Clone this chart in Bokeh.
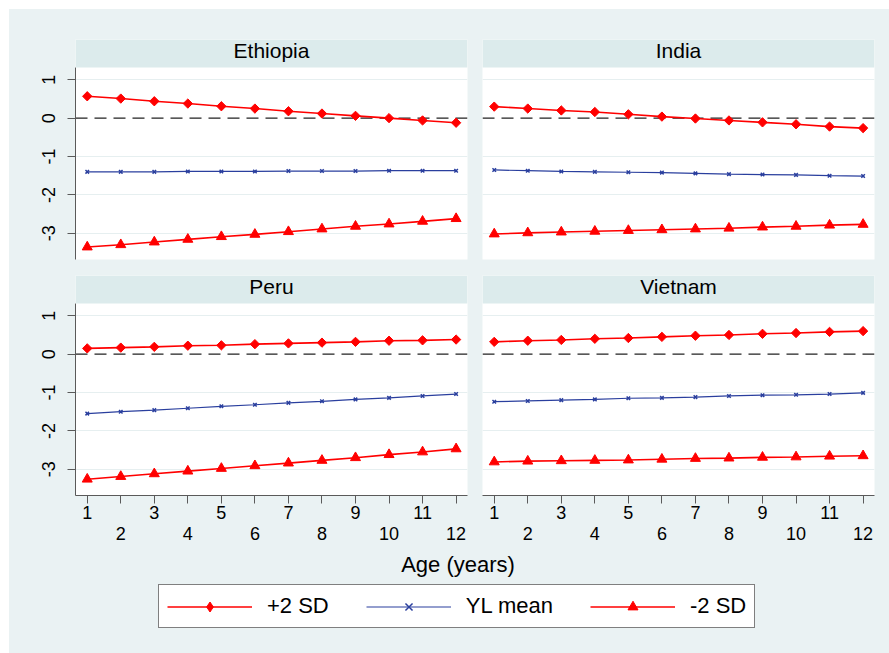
import math
from bokeh.plotting import figure
from bokeh.models import (Range1d, FixedTicker, LinearAxis, Span, BoxAnnotation,
                          Label, Legend, LegendItem, Grid)
from bokeh.layouts import column, row
from bokeh.embed import file_html
from bokeh.resources import INLINE

# ---------------- data ----------------
AGES = [1, 2, 3, 4, 5, 6, 7, 8, 9, 10, 11, 12]
COUNTRIES = ["Ethiopia", "India", "Peru", "Vietnam"]

PLUS2_ETHIOPIA = [0.57, 0.51, 0.44, 0.38, 0.31, 0.25, 0.18, 0.12, 0.06, 0.00, -0.06, -0.12]
MEAN_ETHIOPIA = [-1.40, -1.40, -1.40, -1.39, -1.39, -1.39, -1.38, -1.38, -1.38, -1.37, -1.37, -1.37]
MINUS2_ETHIOPIA = [-3.36, -3.30, -3.23, -3.16, -3.09, -3.03, -2.96, -2.89, -2.82, -2.76, -2.69, -2.62]

PLUS2_INDIA = [0.30, 0.25, 0.20, 0.16, 0.10, 0.04, -0.01, -0.06, -0.11, -0.16, -0.22, -0.26]
MEAN_INDIA = [-1.35, -1.37, -1.39, -1.40, -1.41, -1.42, -1.44, -1.46, -1.47, -1.48, -1.50, -1.51]
MINUS2_INDIA = [-3.02, -2.99, -2.97, -2.95, -2.93, -2.91, -2.89, -2.87, -2.84, -2.82, -2.79, -2.77]

PLUS2_PERU = [0.15, 0.17, 0.19, 0.22, 0.23, 0.26, 0.28, 0.30, 0.32, 0.35, 0.36, 0.38]
MEAN_PERU = [-1.55, -1.50, -1.46, -1.41, -1.36, -1.32, -1.27, -1.23, -1.18, -1.14, -1.09, -1.04]
MINUS2_PERU = [-3.26, -3.19, -3.12, -3.05, -2.98, -2.91, -2.84, -2.77, -2.70, -2.62, -2.55, -2.47]

PLUS2_VIETNAM = [0.32, 0.35, 0.37, 0.40, 0.42, 0.45, 0.48, 0.50, 0.53, 0.55, 0.58, 0.60]
MEAN_VIETNAM = [-1.24, -1.22, -1.20, -1.18, -1.15, -1.14, -1.12, -1.09, -1.07, -1.06, -1.04, -1.01]
MINUS2_VIETNAM = [-2.81, -2.79, -2.78, -2.77, -2.76, -2.74, -2.72, -2.71, -2.69, -2.68, -2.66, -2.65]

PLUS2 = {"Ethiopia": PLUS2_ETHIOPIA, "India": PLUS2_INDIA, "Peru": PLUS2_PERU, "Vietnam": PLUS2_VIETNAM}
MEAN = {"Ethiopia": MEAN_ETHIOPIA, "India": MEAN_INDIA, "Peru": MEAN_PERU, "Vietnam": MEAN_VIETNAM}
MINUS2 = {"Ethiopia": MINUS2_ETHIOPIA, "India": MINUS2_INDIA, "Peru": MINUS2_PERU, "Vietnam": MINUS2_VIETNAM}

Y_TICKS = [-3, -2, -1, 0, 1]
X_TICKS = AGES
SERIES_LABELS = ["+2 SD", "YL mean", "-2 SD"]
X_TITLE = "Age (years)"

# ---------------- style ----------------
BG = "#EAF2F3"
STRIP = "#DCEBEC"
GRID = "#E6EFF0"
RED = "#FF0000"
BLUE = "#2A3F9E"
AXIS = "#5A5A5A"
FONT = "Liberation Sans"

X_START, X_END = 0.65, 12.34
Y_START, Y_TOP = -3.685, 1.32
PLOT_H = 192
STRIP_H = 28
PX = PLOT_H / (Y_TOP - Y_START)
Y_END = Y_TOP + STRIP_H / PX

TOP_H, MID_H = 258, 285
BOT_H = 644 - TOP_H - MID_H


def panel(name, left, bottom):
    width = 465 if left else 415
    height = MID_H if bottom else TOP_H
    p = figure(width=width, height=height,
               x_range=Range1d(X_START, X_END), y_range=Range1d(Y_START, Y_END),
               output_backend="svg", toolbar_location=None,
               x_axis_location="below" if bottom else None,
               y_axis_location="left" if left else None,
               min_border_left=66 if left else 8,
               min_border_right=7 if left else 15,
               min_border_top=8 if bottom else 30,
               min_border_bottom=(MID_H - 228) if bottom else 8)
    p.background_fill_color = "white"
    p.border_fill_color = BG
    p.outline_line_color = None
    p.grid.visible = False
    p.add_layout(Grid(dimension=1, ticker=FixedTicker(ticks=[t for t in Y_TICKS if t != 0]),
                      grid_line_color=GRID, grid_line_width=1))

    if left:
        ya = p.yaxis[0]
        ya.ticker = FixedTicker(ticks=Y_TICKS)
        ya.bounds = (Y_START, Y_TOP)
        ya.major_label_overrides = {t: str(t) for t in Y_TICKS}
        ya.major_label_orientation = "vertical"
        ya.major_tick_out = 8
        ya.major_tick_in = 0
        ya.minor_tick_line_color = None
        ya.axis_line_color = AXIS
        ya.major_tick_line_color = AXIS
        ya.major_label_text_font = FONT
        ya.major_label_text_font_size = "18px"
        ya.major_label_text_color = "black"
        ya.major_label_standoff = 12

    if bottom:
        xa = p.xaxis[0]
        xa.ticker = FixedTicker(ticks=X_TICKS)
        xa.major_tick_out = 8
        xa.major_tick_in = 0
        xa.minor_tick_line_color = None
        xa.axis_line_color = AXIS
        xa.major_tick_line_color = AXIS
        xa.major_label_text_font = FONT
        xa.major_label_text_font_size = "18px"
        xa.major_label_text_color = "black"
        xa.major_label_standoff = 2
        xa.major_label_overrides = {t: ("" if t % 2 == 0 else str(t)) for t in X_TICKS}
        xa2 = LinearAxis(ticker=FixedTicker(ticks=[t for t in X_TICKS if t % 2 == 0]),
                         axis_line_color=None, major_tick_line_color=None,
                         minor_tick_line_color=None, major_tick_out=0, major_tick_in=0,
                         major_label_standoff=5, major_label_text_font=FONT,
                         major_label_text_font_size="18px", major_label_text_color="black")
        p.add_layout(xa2, "below")

    p.add_layout(Span(location=0, dimension="width", line_color="#222222",
                      line_dash="12 7", line_width=1.2, level="underlay"))

    p.line(AGES, PLUS2[name], line_color=RED, line_width=1.6)
    p.scatter(AGES, PLUS2[name], marker="square", angle=math.pi / 4, size=6.6,
              fill_color=RED, line_color=RED)
    p.line(AGES, MEAN[name], line_color=BLUE, line_width=1.2)
    p.scatter(AGES, MEAN[name], marker="x", size=5, line_color=BLUE, line_width=1.5)
    p.line(AGES, MINUS2[name], line_color=RED, line_width=1.6)
    p.scatter(AGES, MINUS2[name], marker="triangle", size=10, fill_color=RED, line_color=RED)

    p.add_layout(BoxAnnotation(bottom=Y_TOP, fill_color=STRIP, fill_alpha=1,
                               line_color=None))
    p.add_layout(Label(x=(X_START + X_END) / 2, y=Y_TOP + 17.2 / PX, text=name,
                       text_align="center", text_baseline="middle",
                       text_font=FONT, text_font_size="21px", text_color="black"))
    return p


p1 = panel("Ethiopia", True, False)
p2 = panel("India", False, False)
p3 = panel("Peru", True, True)
p4 = panel("Vietnam", False, True)

# bottom strip with x title and legend (coordinates in pixels of this strip)
pb = figure(width=880, height=BOT_H, x_range=Range1d(0, 880), y_range=Range1d(BOT_H, 0),
            output_backend="svg", toolbar_location=None,
            x_axis_location=None, y_axis_location=None,
            min_border_left=0, min_border_right=0, min_border_top=0, min_border_bottom=0)
pb.background_fill_color = BG
pb.border_fill_color = BG
pb.outline_line_color = None
pb.grid.visible = False
pb.add_layout(Label(x=448.5, y=563.8 - (9 + TOP_H + MID_H), text=X_TITLE, text_align="center",
                    text_baseline="middle", text_font=FONT, text_font_size="22px",
                    text_color="black"))

# legend proxies: the series drawn on a range that lies outside the strip's view
pb.extra_y_ranges = {"offview": Range1d(1000, 1001)}
l1 = pb.line(AGES, PLUS2_ETHIOPIA, y_range_name="offview", line_color=RED, line_width=1.6)
m1 = pb.scatter(AGES, PLUS2_ETHIOPIA, y_range_name="offview", marker="diamond",
                fill_color=RED, line_color=RED)
l2 = pb.line(AGES, MEAN_ETHIOPIA, y_range_name="offview", line_color=BLUE, line_width=1.2)
m2 = pb.scatter(AGES, MEAN_ETHIOPIA, y_range_name="offview", marker="x",
                line_color=BLUE, line_width=1.5)
l3 = pb.line(AGES, MINUS2_ETHIOPIA, y_range_name="offview", line_color=RED, line_width=1.6)
m3 = pb.scatter(AGES, MINUS2_ETHIOPIA, y_range_name="offview", marker="triangle",
                fill_color=RED, line_color=RED)

legend = Legend(items=[LegendItem(label=SERIES_LABELS[0], renderers=[l1, m1]),
                       LegendItem(label=SERIES_LABELS[1], renderers=[l2, m2]),
                       LegendItem(label=SERIES_LABELS[2], renderers=[l3, m3])],
                orientation="horizontal", location=(149, 25),
                glyph_width=85, glyph_height=25, label_standoff=15, spacing=37,
                padding=8, margin=0, border_line_color="black", border_line_width=1,
                background_fill_color="white", background_fill_alpha=1,
                label_text_font=FONT, label_text_font_size="22px", label_text_color="black")
pb.add_layout(legend)

top = row(p1, p2, styles={"background-color": BG})
mid = row(p3, p4, styles={"background-color": BG})
layout = column(top, mid, pb, margin=(9, 0, 0, 9), styles={"background-color": BG})
open("out.html", "w").write(file_html(layout, INLINE))
